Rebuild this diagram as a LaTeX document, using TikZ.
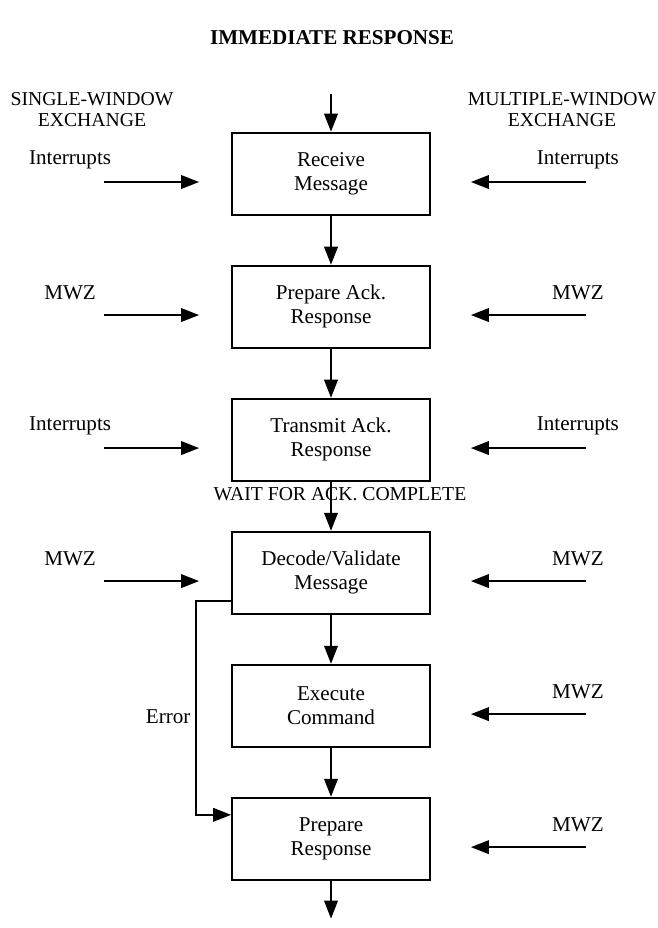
\documentclass[tikz,border=0pt]{standalone}
\usepackage{fontspec}
\setmainfont{Liberation Serif}
\usetikzlibrary{arrows.meta,positioning}

\begin{document}
\begin{tikzpicture}[paso/.style={draw,line width=1.3pt,minimum height=2.05cm,minimum width=4.95cm,align=center,font=\fontsize{15}{17}\selectfont},
                      flecha/.style={-{Triangle[length=4.5mm,width=3.4mm]},line width=1.3pt},
                      rotulo/.style={align=center,font=\fontsize{14}{15}\selectfont}]
    \useasboundingbox (0,0) rectangle (16.45,-23.2);
    \node[font=\bfseries\fontsize{15}{18}\selectfont] (titulo) at (8.3,-0.95) {IMMEDIATE RESPONSE};
    \node[rotulo] (sw) at (2.3,-2.75) {SINGLE-WINDOW\\EXCHANGE};
    \node[rotulo] (mw) at (14.05,-2.75) {MULTIPLE-WINDOW\\EXCHANGE};
    % pasos
    \node[paso] (b1) at (8.275,-4.34) {Receive\\Message};
    \node[paso,below=1.23cm of b1] (b2) {Prepare Ack.\\Response};
    \node[paso,below=1.23cm of b2] (b3) {Transmit Ack.\\Response};
    \node[paso,below=1.23cm of b3] (b4) {Decode/Validate\\Message};
    \node[paso,below=1.23cm of b4] (b5) {Execute\\Command};
    \node[paso,below=1.23cm of b5] (b6) {Prepare\\Response};
    \node[rotulo] (espera) at (8.5,-12.35) {WAIT FOR ACK. COMPLETE};
    \coordinate[above=0.95cm of b1] (entrada);
    \coordinate[below=0.95cm of b6] (salida);
    \draw[flecha] (entrada) -- (b1);
    \foreach \a/\b in {b1/b2,b2/b3,b3/b4,b4/b5,b5/b6} \draw[flecha] (\a) -- (\b);
    \draw[flecha] (b6) -- (salida);
    % entradas laterales
    \foreach \b/\t in {b1/Interrupts,b2/MWZ,b3/Interrupts,b4/MWZ} {
      \coordinate (\b-pi) at ([shift={(-0.8,-0.21)}]\b.west);
      \coordinate (\b-ci) at ([xshift=-2.375cm]\b-pi);
      \node[rotulo,font=\fontsize{15}{17}\selectfont] (\b-ti) at ([shift={(-0.85,0.55)}]\b-ci) {\t};
      \draw[flecha] (\b-ci) -- (\b-pi);
    }
    \foreach \b/\t in {b1/Interrupts,b2/MWZ,b3/Interrupts,b4/MWZ,b5/MWZ,b6/MWZ} {
      \coordinate (\b-pd) at ([shift={(1.0,-0.21)}]\b.east);
      \coordinate (\b-cd) at ([xshift=2.875cm]\b-pd);
      \node[rotulo,font=\fontsize{15}{17}\selectfont] (\b-td) at ([shift={(-0.2,0.55)}]\b-cd) {\t};
      \draw[flecha] (\b-cd) -- (\b-pd);
    }
    % error
    \draw[flecha] ([yshift=0.35cm]b4.south west) -- ++(-0.875,0) |- node[rotulo,pos=0.27,left,font=\fontsize{15}{17}\selectfont] (error) {Error} ([yshift=-0.45cm]b6.north west);
  \end{tikzpicture}
\end{document}
